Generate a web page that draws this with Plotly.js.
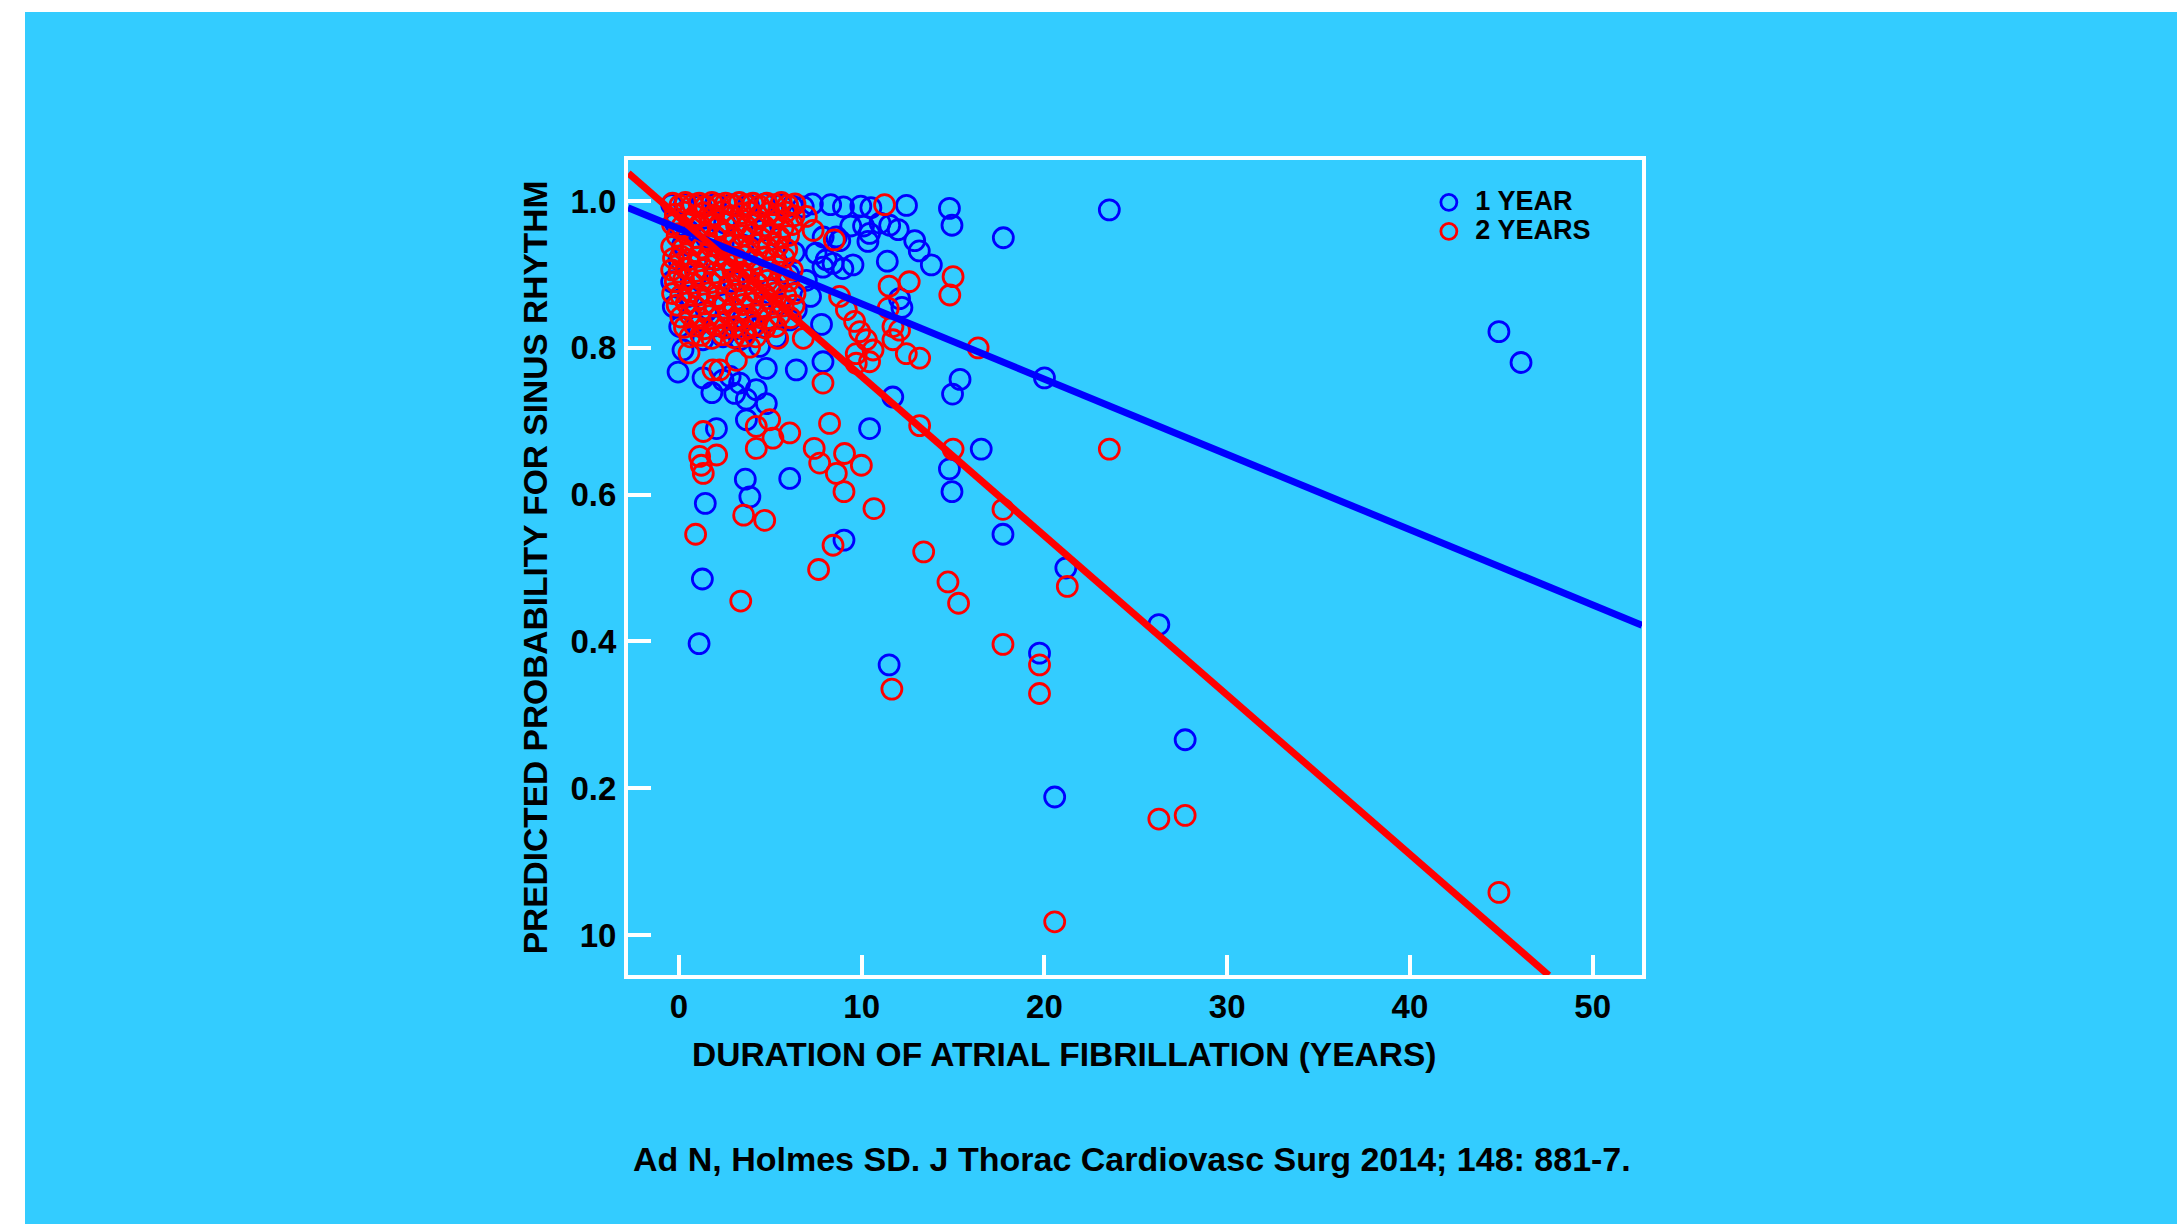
<!DOCTYPE html>
<html>
<head>
<meta charset="utf-8">
<script src="https://cdn.plot.ly/plotly-3.0.1.min.js"></script>
<style>
  html, body { margin: 0; padding: 0; background: #ffffff; width: 2177px; height: 1224px; overflow: hidden; }
  #chart { position: absolute; left: 25px; top: 12px; width: 2152px; height: 1212px; }
</style>
</head>
<body>
<div id="chart"></div>
<script>
// ---------- DATA ----------
var seriesNames = ['1 YEAR', '2 YEARS'];

// 1 YEAR (blue open circles): duration of AF (years) and predicted probability
var yr1X = [
  -0.4, 0.3, 1.2, 2.0, 2.9, 3.8, 4.7, 5.6, 6.2,
  -0.2, 0.5, 1.5, 2.5, 3.5, 4.5, 5.5, 6.3,
  0.2, 0.0, 1.0, 2.0, 3.0, 4.0, 5.0, 6.0,
  -0.4, 0.5, 1.5, 2.5, 3.5, 4.5, 5.5,
  1.0, 2.0, 3.0, 4.0,
  -0.31, 0.04, 0.22, -0.05, 1.31, 2.41, 3.32, 4.41, 5.33, 6.06, 6.42, 7.2, 6.97, 7.8,
  1.32, 1.8, 2.41, 2.8, 3.05, 3.32, 3.69, 4.23, 4.78, 4.78, 3.69, 2.05, 6.42, 7.88,
  6.8, 7.3, 8.3, 9.0, 9.95, 10.5, 12.45, 14.8, 23.55,
  9.4, 10.1, 11.0, 11.53, 12.0, 14.94,
  7.89, 8.61, 8.8, 10.34, 10.43, 12.9, 13.15, 13.81, 17.75,
  11.4, 7.5, 7.88, 8.06, 8.43, 8.97, 9.52,
  12.07, 12.2,
  10.43, 16.54, 15.38, 14.97, 11.7, 14.8, 14.94, 20.0,
  3.63, 3.88, 1.44, 6.06, 9.03, 1.28, 1.1, 11.5, 17.73, 19.73, 21.17, 26.26, 27.7, 20.56, 44.87, 46.08
];
var yr1Y = [
  0.995, 0.996, 0.994, 0.996, 0.995, 0.994, 0.996, 0.995, 0.993,
  0.97, 0.96, 0.95, 0.97, 0.94, 0.96, 0.95, 0.93,
  0.94, 0.92, 0.90, 0.92, 0.89, 0.91, 0.88, 0.90,
  0.89, 0.87, 0.85, 0.86, 0.84, 0.85, 0.86,
  0.83, 0.83, 0.825, 0.83,
  0.856, 0.829, 0.797, 0.767, 0.811, 0.815, 0.811, 0.802, 0.815, 0.838, 0.852, 0.870, 0.892, 0.832,
  0.759, 0.739, 0.756, 0.761, 0.738, 0.752, 0.730, 0.743, 0.724, 0.772, 0.702, 0.690, 0.770, 0.781,
  0.992, 0.996, 0.995, 0.992, 0.993, 0.991, 0.994, 0.990, 0.988,
  0.966, 0.966, 0.970, 0.967, 0.961, 0.967,
  0.951, 0.951, 0.946, 0.945, 0.956, 0.946, 0.932, 0.913, 0.950,
  0.918, 0.929, 0.910, 0.920, 0.915, 0.908, 0.913,
  0.867, 0.855,
  0.690, 0.662, 0.757, 0.737, 0.733, 0.635, 0.604, 0.759,
  0.621, 0.597, 0.588, 0.622, 0.538, 0.485, 0.397, 0.368, 0.546, 0.384, 0.500, 0.423, 0.266, 0.188, 0.822, 0.780
];

// 2 YEARS (red open circles)
var yr2X = [
  -0.35, 0.05, 0.35, 0.75, 1.1, 1.45, 1.8, 2.2, 2.55, 2.95, 3.3, 3.65, 4.05, 4.4, 4.8, 5.2, 5.6, 5.95, 6.35,
  -0.2, 0.3, 0.9, 1.35, 1.9, 2.4, 2.85, 3.4, 3.9, 4.35, 4.9, 5.4, 5.85, 6.3,
  -0.35, 0.15, 0.65, 1.2, 1.7, 2.15, 2.7, 3.15, 3.7, 4.2, 4.65, 5.15, 5.7, 6.2,
  -0.1, 0.45, 0.95, 1.5, 2.0, 2.5, 3.0, 3.5, 4.0, 4.5, 5.0, 5.5, 6.0,
  -0.4, 0.2, 0.7, 1.25, 1.75, 2.3, 2.8, 3.3, 3.85, 4.35, 4.85, 5.4, 5.9,
  -0.3, 0.1, 0.55, 1.05, 1.6, 2.1, 2.6, 3.1, 3.6, 4.1, 4.7, 5.25, 5.75,
  -0.4, 0.0, 0.4, 0.9, 1.4, 1.95, 2.45, 2.95, 3.45, 3.95, 4.5, 5.0, 5.6, 6.2,
  -0.2, 0.25, 0.75, 1.25, 1.75, 2.25, 2.8, 3.3, 3.8, 4.3, 4.85, 5.4, 6.0,
  -0.35, 0.1, 0.6, 1.1, 1.6, 2.1, 2.6, 3.15, 3.65, 4.15, 4.7, 5.25, 5.85, 6.35,
  -0.1, 0.4, 0.9, 1.4, 1.95, 2.45, 2.95, 3.5, 4.0, 4.55, 5.1, 5.7, 6.3,
  0.1, 0.6, 1.15, 1.65, 2.2, 2.7, 3.25, 3.8, 4.3, 4.9, 5.5, 6.1,
  0.3, 0.85, 1.4, 1.95, 2.5, 3.05, 3.6, 4.15, 4.7, 5.3,
  0.6, 1.2, 1.8, 2.4, 3.0, 3.6, 4.2,
  6.97, 7.34, 11.25, 8.5, 15.0, 14.82, 12.6, 11.5, 8.79, 9.16, 9.61, 9.89, 10.25, 10.62, 9.70, 10.43, 9.70,
  11.45, 11.71, 11.71, 12.44, 13.17, 12.07, 16.37, 7.88, 6.80, 5.4, 1.86, 0.55, 2.23, 3.14, 3.87,
  8.24, 13.17, 15.0, 1.33, 4.23, 4.96, 5.14, 6.06, 4.23, 7.4, 7.70, 9.06, 9.98, 8.61, 9.03, 1.13, 1.22, 1.33, 2.06,
  0.91, 3.54, 4.69, 3.38, 10.67, 8.43, 7.64, 13.39, 14.72, 15.30, 17.73, 11.65, 19.73, 19.73, 17.73, 21.25, 23.55,
  44.87, 20.56, 26.26, 27.70
];
var yr2Y = [
  0.997, 0.994, 0.998, 0.995, 0.997, 0.993, 0.998, 0.995, 0.997, 0.994, 0.998, 0.995, 0.997, 0.993, 0.997, 0.995, 0.998, 0.994, 0.996,
  0.982, 0.985, 0.980, 0.984, 0.981, 0.986, 0.980, 0.983, 0.985, 0.979, 0.984, 0.981, 0.985, 0.980,
  0.968, 0.965, 0.970, 0.966, 0.969, 0.964, 0.971, 0.967, 0.965, 0.970, 0.966, 0.969, 0.964, 0.968,
  0.952, 0.955, 0.950, 0.954, 0.951, 0.956, 0.950, 0.953, 0.955, 0.949, 0.954, 0.951, 0.953,
  0.938, 0.935, 0.940, 0.936, 0.939, 0.934, 0.940, 0.937, 0.935, 0.941, 0.936, 0.938, 0.934,
  0.922, 0.925, 0.920, 0.924, 0.921, 0.926, 0.919, 0.923, 0.925, 0.920, 0.924, 0.921, 0.923,
  0.906, 0.903, 0.908, 0.904, 0.907, 0.902, 0.909, 0.905, 0.903, 0.908, 0.904, 0.907, 0.903, 0.906,
  0.890, 0.893, 0.888, 0.892, 0.889, 0.894, 0.887, 0.891, 0.893, 0.888, 0.892, 0.889, 0.891,
  0.874, 0.871, 0.876, 0.872, 0.875, 0.870, 0.877, 0.873, 0.871, 0.876, 0.872, 0.875, 0.871, 0.874,
  0.858, 0.861, 0.856, 0.860, 0.857, 0.862, 0.855, 0.859, 0.861, 0.856, 0.860, 0.857, 0.858,
  0.842, 0.845, 0.840, 0.844, 0.841, 0.846, 0.839, 0.843, 0.845, 0.840, 0.844, 0.841,
  0.828, 0.830, 0.826, 0.831, 0.827, 0.829, 0.825, 0.830, 0.827, 0.829,
  0.815, 0.817, 0.813, 0.818, 0.814, 0.816, 0.815,
  0.979, 0.960, 0.995, 0.947, 0.897, 0.872, 0.890, 0.884, 0.870, 0.852, 0.836, 0.822, 0.811, 0.797, 0.792, 0.781, 0.779,
  0.854, 0.829, 0.811, 0.792, 0.786, 0.824, 0.800, 0.752, 0.813, 0.813, 0.770, 0.793, 0.770, 0.783, 0.801,
  0.697, 0.694, 0.662, 0.686, 0.693, 0.702, 0.677, 0.684, 0.663, 0.663, 0.643, 0.656, 0.640, 0.629, 0.604, 0.652, 0.640, 0.629, 0.654,
  0.546, 0.572, 0.565, 0.455, 0.581, 0.531, 0.498, 0.522, 0.481, 0.452, 0.396, 0.335, 0.368, 0.329, 0.580, 0.475, 0.662,
  0.058, 0.018, 0.158, 0.163
];

// Fitted lines (end points)
var fit1X = [-2.79, 52.7];
var fit1Y = [0.991, 0.422];
var fit2X = [-2.77, 47.6];
var fit2Y = [1.038, -0.055];

// Axis ticks
var xTickVals = [0, 10, 20, 30, 40, 50];
var xTickText = ['0', '10', '20', '30', '40', '50'];
var yTickVals = [0, 0.2, 0.4, 0.6, 0.8, 1.0];
var yTickText = ['10', '0.2', '0.4', '0.6', '0.8', '1.0'];

// Texts
var xTitle = 'DURATION OF ATRIAL FIBRILLATION (YEARS)';
var yTitle = 'PREDICTED PROBABILITY FOR SINUS RHYTHM';
var citation = 'Ad N, Holmes SD. J Thorac Cardiovasc Surg 2014; 148: 881-7.';

// ---------- STYLE ----------
var BG = '#33CCFF';
var BLUE = '#0000FF';
var RED = '#FF0000';
var FONT = 'Liberation Sans, Arial, Helvetica, sans-serif';

function legendLabel(s) { return '<span style="font-size:27px">' + s + '</span>'; }

var traces = [
  {
    type: 'scatter', mode: 'markers', name: legendLabel(seriesNames[0]),
    x: yr1X, y: yr1Y,
    marker: { symbol: 'circle-open', size: 20, color: BLUE, line: { width: 2.8, color: BLUE } },
    hoverinfo: 'x+y'
  },
  {
    type: 'scatter', mode: 'markers', name: legendLabel(seriesNames[1]),
    x: yr2X, y: yr2Y,
    marker: { symbol: 'circle-open', size: 20, color: RED, line: { width: 2.8, color: RED } },
    hoverinfo: 'x+y'
  },
  {
    type: 'scatter', mode: 'lines', name: seriesNames[0] + ' fit', showlegend: false,
    x: fit1X, y: fit1Y, line: { color: BLUE, width: 7 }, hoverinfo: 'skip'
  },
  {
    type: 'scatter', mode: 'lines', name: seriesNames[1] + ' fit', showlegend: false,
    x: fit2X, y: fit2Y, line: { color: RED, width: 7 }, hoverinfo: 'skip'
  }
];

var layout = {
  width: 2152, height: 1212,
  paper_bgcolor: BG, plot_bgcolor: BG,
  margin: { l: 603, r: 535, t: 148, b: 249 },
  font: { family: FONT, color: '#000000', weight: 'bold' },
  showlegend: true,
  legend: {
    x: 0.7834, y: 0.972, xanchor: 'left', yanchor: 'top',
    bgcolor: 'rgba(0,0,0,0)', borderwidth: 0,
    font: { family: FONT, size: 20, color: '#000000', weight: 'bold' },
    itemwidth: 43, tracegroupgap: 0
  },
  xaxis: {
    range: [-2.79, 52.7], autorange: false,
    showgrid: false, zeroline: false,
    showline: true, linecolor: '#FFFFFF', linewidth: 4, mirror: true,
    ticks: 'inside', ticklen: 20, tickwidth: 4, tickcolor: '#FFFFFF',
    tickmode: 'array', tickvals: xTickVals, ticktext: xTickText,
    tickfont: { family: FONT, size: 33, color: '#000000', weight: 'bold' },
    ticklabelstandoff: -1
  },
  yaxis: {
    range: [-0.0545, 1.0559], autorange: false,
    showgrid: false, zeroline: false,
    showline: true, linecolor: '#FFFFFF', linewidth: 4, mirror: true,
    ticks: 'inside', ticklen: 23, tickwidth: 4, tickcolor: '#FFFFFF',
    tickmode: 'array', tickvals: yTickVals, ticktext: yTickText,
    tickfont: { family: FONT, size: 33, color: '#000000', weight: 'bold' },
    ticklabelstandoff: 1,
    title: { text: yTitle, standoff: 14, font: { family: FONT, size: 33.5, color: '#000000', weight: 'bold' } }
  },
  annotations: [
    {
      text: xTitle, xref: 'paper', yref: 'paper', x: 0.4295, y: -0.0975,
      xanchor: 'center', yanchor: 'middle', showarrow: false,
      font: { family: FONT, size: 33.5, color: '#000000', weight: 'bold' }
    },
    {
      text: citation, xref: 'paper', yref: 'paper', x: 0.4975, y: -0.2258,
      xanchor: 'center', yanchor: 'middle', showarrow: false,
      font: { family: FONT, size: 34, color: '#000000', weight: 'bold' }
    }
  ]
};

Plotly.newPlot('chart', traces, layout, { displayModeBar: false, responsive: false });
</script>
</body>
</html>
